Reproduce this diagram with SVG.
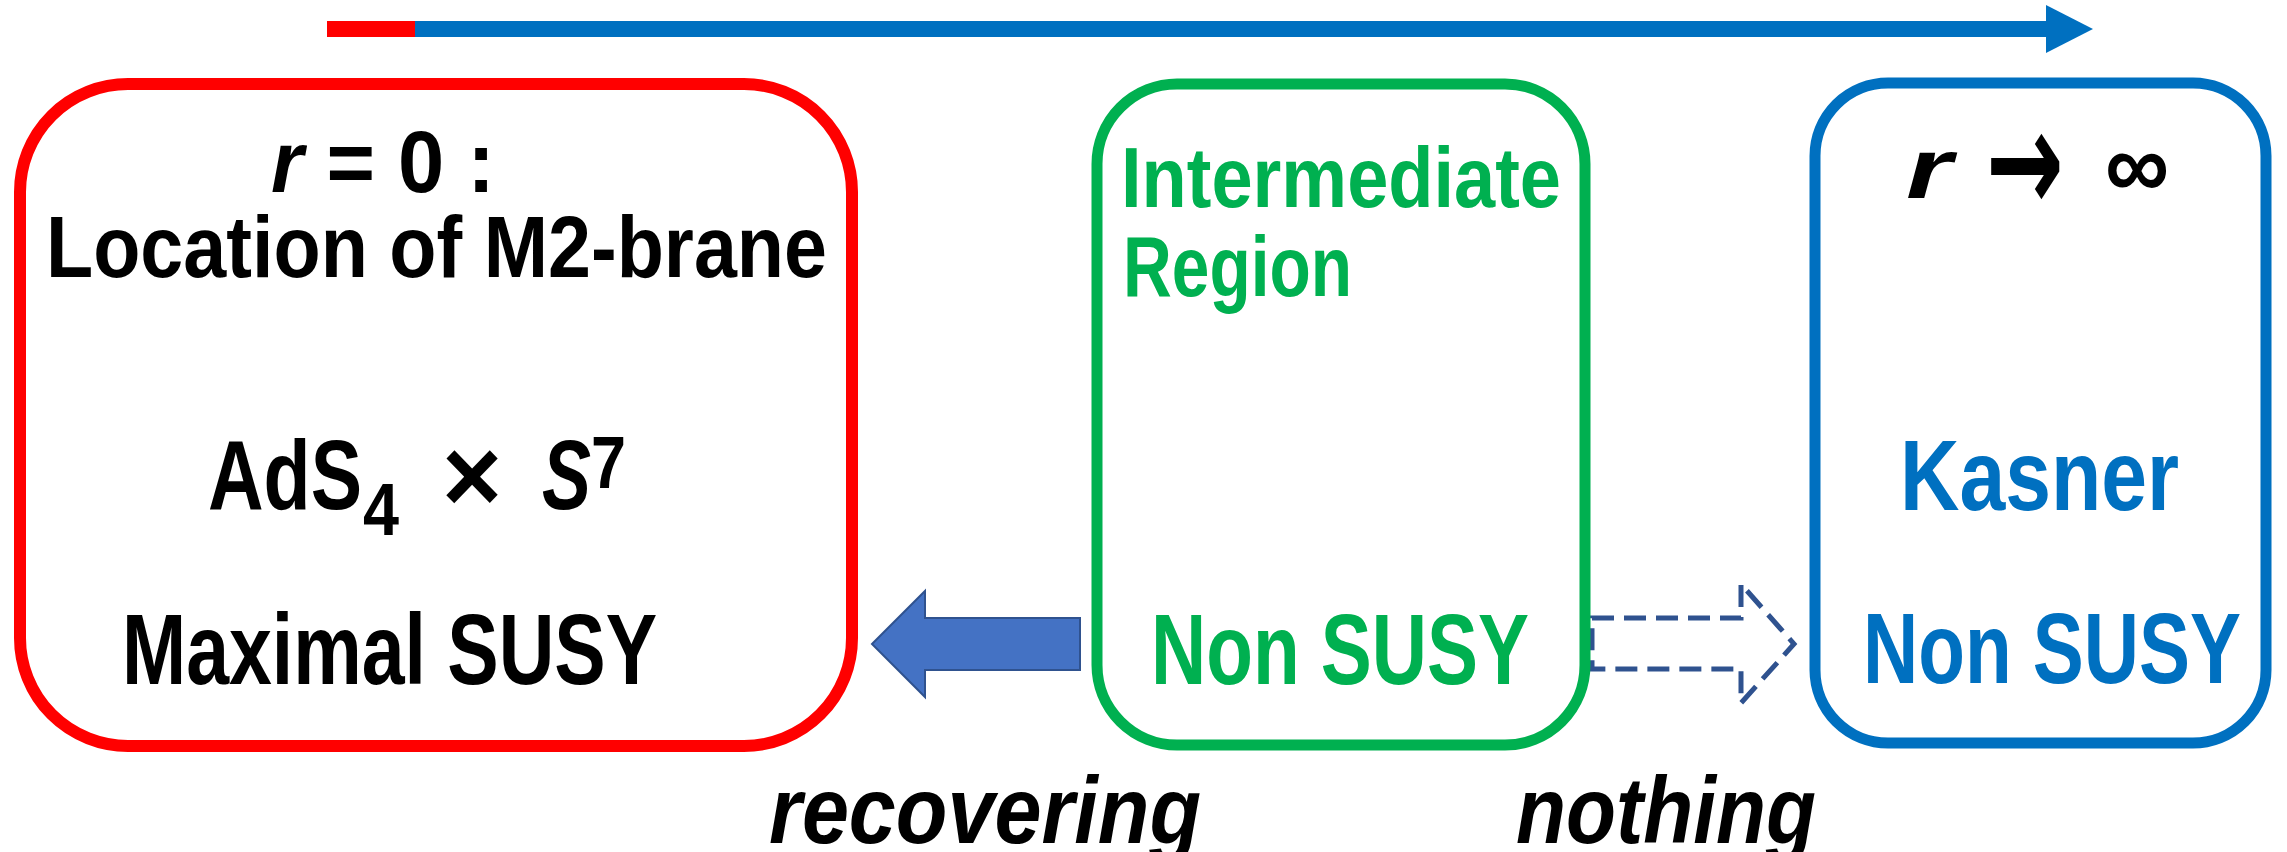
<svg xmlns="http://www.w3.org/2000/svg" width="2287" height="852" viewBox="0 0 2287 852">
<style>
  .t { font-family: "Liberation Sans", Arial, sans-serif; font-weight: bold; }
  .box { fill: #ffffff; }
  .blk { fill: #000000; }
  .grn { fill: #00B050; }
  .blu { fill: #0070C0; }
  .it { font-style: italic; }
  .dj { font-family: "DejaVu Sans", sans-serif; font-weight: bold; }
</style>
<rect x="0" y="0" width="2287" height="852" fill="#ffffff"/>
<g id="connectors">
  <g id="axis-arrow">
    <rect x="327" y="21" width="90" height="16" fill="#FF0000"/>
    <rect x="415" y="21" width="1633" height="16" fill="#0070C0"/>
    <polygon points="2046,5 2093,29 2046,53" fill="#0070C0"/>
  </g>
  <polygon id="recovering-arrow" points="872,644 925,591 925,618 1080,618 1080,670 925,670 925,697" fill="#4472C4" stroke="#2F528F" stroke-width="2"/>
  <polygon id="nothing-arrow" points="1592,618 1741,618 1741,584 1794,644 1741,703 1741,669 1592,669" fill="#ffffff" stroke="#2F528F" stroke-width="5" stroke-dasharray="22 10"/>
  <text class="t blk it" x="769" y="843" font-size="95" textLength="432" lengthAdjust="spacingAndGlyphs">recovering</text>
  <text class="t blk it" x="1516" y="843" font-size="95" textLength="300" lengthAdjust="spacingAndGlyphs">nothing</text>
</g>
<g id="node-m2">
  <rect class="box" x="20" y="84" width="832" height="662" rx="108" ry="108" stroke="#FF0000" stroke-width="12"/>
  <text class="t blk" x="271" y="192" font-size="87" textLength="224" lengthAdjust="spacingAndGlyphs"><tspan class="it">r</tspan> = 0 :</text>
  <text class="t blk" x="46" y="277" font-size="87" textLength="781" lengthAdjust="spacingAndGlyphs">Location of M2-brane</text>
  <text class="t blk" font-size="99"><tspan x="208" y="509" textLength="154" lengthAdjust="spacingAndGlyphs">AdS</tspan><tspan x="363" y="535" font-size="75" textLength="36" lengthAdjust="spacingAndGlyphs">4</tspan><tspan x="442" y="512" font-size="105" textLength="60" lengthAdjust="spacingAndGlyphs">×</tspan><tspan class="it" x="542" y="509" textLength="49" lengthAdjust="spacingAndGlyphs">S</tspan><tspan x="591" y="488" font-size="74" textLength="35" lengthAdjust="spacingAndGlyphs">7</tspan></text>
  <text class="t blk" x="122" y="684" font-size="100" textLength="535" lengthAdjust="spacingAndGlyphs">Maximal SUSY</text>
</g>
<g id="node-intermediate">
  <rect class="box" x="1097" y="84" width="488" height="661" rx="80" ry="80" stroke="#00B050" stroke-width="11"/>
  <text class="t grn" x="1121" y="207" font-size="85" textLength="440" lengthAdjust="spacingAndGlyphs">Intermediate</text>
  <text class="t grn" x="1123" y="296" font-size="85" textLength="229" lengthAdjust="spacingAndGlyphs">Region</text>
  <text class="t grn" x="1151" y="684" font-size="100" textLength="378" lengthAdjust="spacingAndGlyphs">Non SUSY</text>
</g>
<g id="node-kasner">
  <rect class="box" x="1815" y="83" width="451" height="660" rx="73" ry="73" stroke="#0070C0" stroke-width="11"/>
  <text class="t blk" font-size="85"><tspan class="it" x="1906" y="198" textLength="46" lengthAdjust="spacingAndGlyphs">r</tspan><tspan class="dj" x="1986" y="212" font-size="145" textLength="78" lengthAdjust="spacingAndGlyphs">→</tspan><tspan x="2105" y="198" font-size="95" textLength="64" lengthAdjust="spacingAndGlyphs">∞</tspan></text>
  <text class="t blu" x="1900" y="510" font-size="100" textLength="279" lengthAdjust="spacingAndGlyphs">Kasner</text>
  <text class="t blu" x="1863" y="683" font-size="100" textLength="378" lengthAdjust="spacingAndGlyphs">Non SUSY</text>
</g>
</svg>
